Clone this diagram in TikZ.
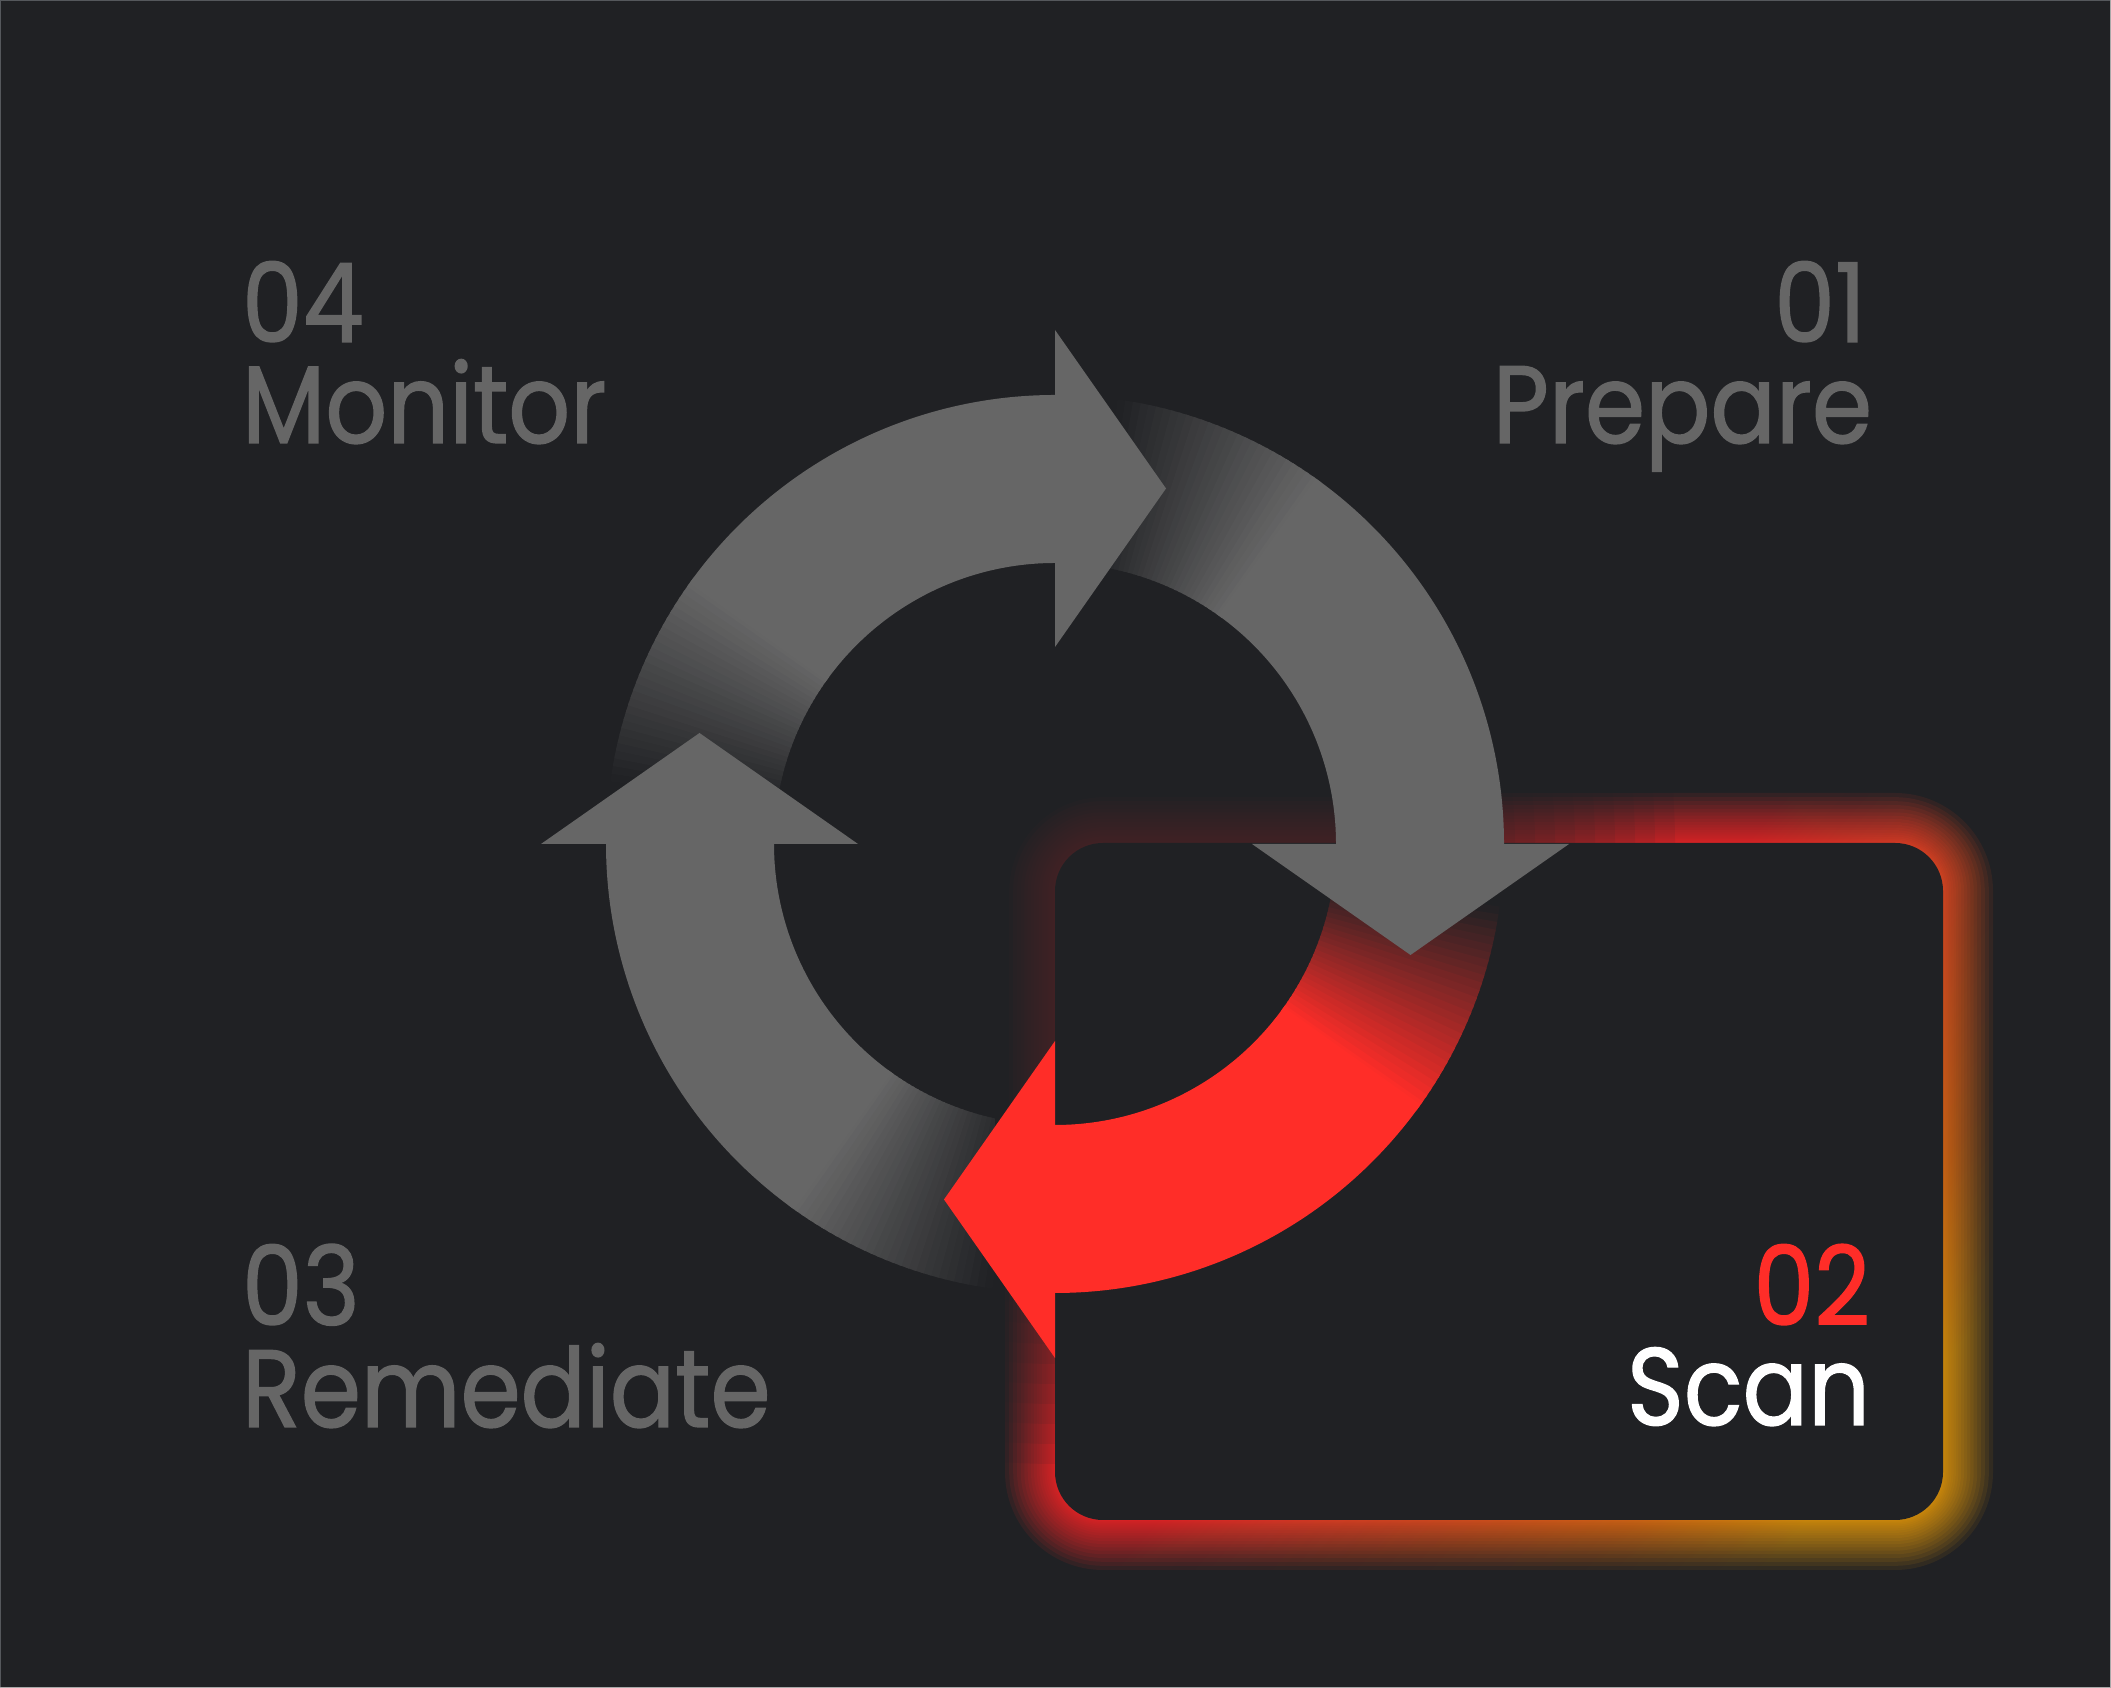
\documentclass[tikz,border=0pt]{standalone}
\usepackage{fontspec}
\setmainfont{Poppins}
\newfontfamily\lblfont{Poppins}[FakeStretch=0.88, FakeBold=1.2]
\definecolor{bgc}{HTML}{202124}
\definecolor{gry}{HTML}{666666}
\definecolor{rd}{HTML}{FF2D28}
\definecolor{gred}{HTML}{FF2D28}
\definecolor{gorgA}{HTML}{F2561E}
\definecolor{gorgB}{HTML}{F07414}
\definecolor{gyel}{HTML}{F0A00C}
\definecolor{edgeA}{HTML}{55585C}
\definecolor{edgeB}{HTML}{A8A8A8}
\pgfdeclarehorizontalshading{glowshade}{100bp}{color(0bp)=(gred); color(48bp)=(gred); color(60bp)=(gorgA); color(68bp)=(gorgB); color(75bp)=(gyel); color(100bp)=(gyel)}
\newcommand\ringseg[3]{%
  \fill[#1] (#2:281) arc[start angle=#2, end angle=#3, radius=281] -- (#3:449) arc[start angle=#3, end angle=#2, radius=449] -- cycle;}
\newcommand\fadearc[3]{% color, tail angle, head angle
  \foreach \i in {0,...,27}{%
    \pgfmathsetmacro\aa{#2-8-\i}%
    \pgfmathsetmacro\ab{#2-9.4-\i}%
    \pgfmathtruncatemacro\pp{round(100*(\i+0.5)/28)}%
    \ringseg{#1!\pp!bgc}{\aa}{\ab}}%
  \pgfmathsetmacro\ac{#2-35.5}%
  \ringseg{#1}{\ac}{#3}}
\begin{document}
\begin{tikzpicture}[x=1pt,y=1pt,
  lbl/.style={inner sep=0pt, outer sep=0pt, font=\lblfont\fontsize{110}{110}\selectfont}]
\useasboundingbox (0,0) rectangle (2111,1688);
\fill[bgc] (0,0) rectangle (2111,1688);
\draw[edgeA, line width=2] (0,0) -- (0,1688) -- (2111,1688);
\draw[edgeB, line width=2] (0,0) -- (2111,0) -- (2111,1688);

% rings outside the box
\begin{scope}[shift={(1055,844)}]
  \fadearc{gry}{180}{90}
  \fadearc{gry}{-90}{-180}
\end{scope}

% glow around the Scan box
\foreach \k in {1,...,20}{%
  \pgfmathsetmacro\dd{50*(\k/20)^1.7}%
  \pgfmathsetmacro\rr{48+\dd}%
  \begin{scope}
    \clip[rounded corners=\rr] ({1055-\dd},{168-\dd}) rectangle ({1943+\dd},{845+\dd});
    \shade[shading=glowshade, shading angle=-41, opacity=0.085] (995,108) rectangle (2003,905);
  \end{scope}}
% dim the glow near the circle centre
\begin{scope}
  \clip[rounded corners=100] (995,108) rectangle (2003,905);
  \foreach \r in {300,320,...,620}{\fill[bgc, opacity=0.09] (1055,844) circle (\r);}
\end{scope}
\node[fill=bgc, rounded corners=48, minimum width=888, minimum height=677, inner sep=0pt, outer sep=0pt, anchor=south west] (scanbox) at (1055,168) {};

% rings over the box
\begin{scope}[shift={(1055,844)}]
  \fadearc{gry}{90}{0}
  \fadearc{rd}{0}{-90}
  % arrowheads
  \fill[gry] (90:197) -- (90:514) -- (111,355.5) -- cycle;
  \fill[gry] (0:197) -- (0:514) -- (355.5,-111) -- cycle;
  \fill[gry] (180:197) -- (180:514) -- (-355.5,111) -- cycle;
  \fill[rd] (-90:197) -- (-90:514) -- (-111,-355.5) -- cycle;
\end{scope}

% labels
\node[lbl, text=gry, anchor=base west] (n04) at (242,1346) {04};
\node[lbl, text=gry, anchor=base west] (t04) at (242,1245) {Monitor};
\node[lbl, text=gry, anchor=base east] (n01) at (1866,1346) {01};
\node[lbl, text=gry, anchor=base east] (t01) at (1872,1245) {Prepare};
\node[lbl, text=gry, anchor=base west] (n03) at (242,363) {03};
\node[lbl, text=gry, anchor=base west] (t03) at (242,261) {Remediate};
\node[lbl, text=rd, anchor=base east] (n02) at (1870,363) {02};
\node[lbl, text=white, anchor=base east] (t02) at (1870,263) {Scan};
\end{tikzpicture}
\end{document}
